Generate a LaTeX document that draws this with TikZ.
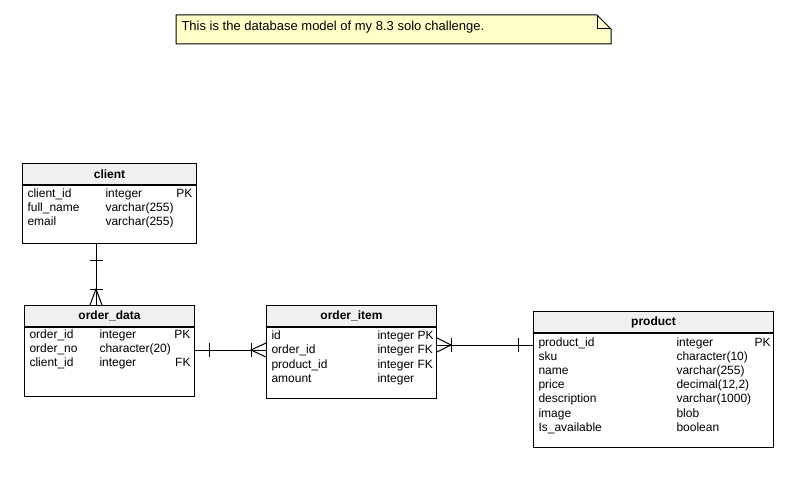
\documentclass[tikz,border=0pt]{standalone}
\usepackage{fontspec}
\setmainfont{Liberation Sans}
\usetikzlibrary{positioning,calc}
\definecolor{notefill}{HTML}{FFFFC8}
\definecolor{headfill}{HTML}{F0F0F0}
\tikzset{
  thead/.style={draw, fill=headfill, anchor=north west, inner sep=0pt, minimum height=21, font=\fontsize{12}{14}\selectfont\bfseries},
  tbody/.style={draw, fill=white, anchor=north west, inner sep=0pt},
  field/.style={anchor=base west, inner sep=0pt},
  fkey/.style={anchor=base east, inner sep=0pt},
}
\begin{document}
\begin{tikzpicture}[x=1pt, y=-1pt, line width=1pt, font=\fontsize{12}{14}\selectfont]
  \useasboundingbox (0,0) rectangle (802,492);

  % note
  \draw[fill=notefill] (176,15) -- (597,15) -- (611,29) -- (611,44) -- (176,44) -- cycle;
  \draw (597,15) -- (597,29) -- (611,29);
  \node[field, font=\fontsize{13}{15}\selectfont] (note) at (181,30.5) {This is the database model of my 8.3 solo challenge.};

  % client
  \node[thead, minimum width=174] (clhead) at (22,163) {client};
  \node[tbody, minimum width=174, minimum height=58] (clbody) at (clhead.south west) {};
  \foreach \n/\t/\k [count=\i from 0] in {client\_id/integer/PK, full\_name/varchar(255)/{}, email/varchar(255)/{}}{
    \node[field] (cln\i) at ($(clhead.north west)+(5,34+14.3*\i)$) {\n};
    \node[field] (clt\i) at ($(clhead.north west)+(83,34+14.3*\i)$) {\t};
    \node[fkey] (clk\i) at ($(clhead.north west)+(171,34+14.3*\i)$) {\k};
  }

  % order_data
  \node[thead, minimum width=170] (odhead) at (24,305) {order\_data};
  \node[tbody, minimum width=170, minimum height=69] (odbody) at (odhead.south west) {};
  \foreach \n/\t/\k [count=\i from 0] in {order\_id/integer/PK, order\_no/character(20)/{}, client\_id/integer/FK}{
    \node[field] (odn\i) at ($(odhead.north west)+(5,33+14.3*\i)$) {\n};
    \node[field] (odt\i) at ($(odhead.north west)+(75,33+14.3*\i)$) {\t};
    \node[fkey] (odk\i) at ($(odhead.north west)+(167,33+14.3*\i)$) {\k};
  }

  % order_item
  \node[thead, minimum width=170] (oihead) at (266,305) {order\_item};
  \node[tbody, minimum width=170, minimum height=71] (oibody) at (oihead.south west) {};
  \foreach \n/\t [count=\i from 0] in {id/{integer PK}, order\_id/{integer FK}, product\_id/{integer FK}, amount/integer}{
    \node[field] (oin\i) at ($(oihead.north west)+(5,34+14.5*\i)$) {\n};
    \node[field] (oit\i) at ($(oihead.north west)+(111,34+14.5*\i)$) {\t};
  }

  % product
  \node[thead, minimum width=240] (prhead) at (533,311) {product};
  \node[tbody, minimum width=240, minimum height=114] (prbody) at (prhead.south west) {};
  \foreach \n/\t/\k [count=\i from 0] in {product\_id/integer/PK, sku/character(10)/{}, name/varchar(255)/{},
      price/{decimal(12,2)}/{}, description/varchar(1000)/{}, image/blob/{}, Is\_available/boolean/{}}{
    \node[field] (prn\i) at ($(prhead.north west)+(5,35+14.2*\i)$) {\n};
    \node[field] (prt\i) at ($(prhead.north west)+(143,35+14.2*\i)$) {\t};
    \node[fkey] (prk\i) at ($(prhead.north west)+(238,35+14.2*\i)$) {\k};
  }

  % client -- order_data
  \coordinate (cl1) at ($(clbody.south west)+(74,0)$);
  \coordinate (od1) at ($(odhead.north west)+(72,0)$);
  \draw (cl1) -- (od1);
  \draw (cl1) ++(-6.5,16) -- ++(13,0);
  \draw (od1) ++(-6.5,-16) -- ++(13,0);
  \draw (od1) ++(-6,0) -- ++(6,-16) -- ++(6,16);

  % order_data -- order_item
  \coordinate (od2) at ($(odhead.north east)+(0,45)$);
  \coordinate (oi1) at ($(oihead.north west)+(0,45)$);
  \draw (od2) -- (oi1);
  \draw (od2) ++(14,-7) -- ++(0,14);
  \draw (oi1) ++(-15,-7) -- ++(0,14);
  \draw (oi1) ++(0,-7) -- ++(-15,7) -- ++(15,7);

  % order_item -- product
  \coordinate (oi2) at ($(oihead.north east)+(0,40)$);
  \coordinate (pr1) at ($(prhead.north west)+(0,34)$);
  \draw (oi2) -- (pr1);
  \draw (oi2) ++(0,-7) -- ++(14,7) -- ++(-14,7);
  \draw (oi2) ++(14,-7) -- ++(0,14);
  \draw (pr1) ++(-15,-7) -- ++(0,14);

\end{tikzpicture}
\end{document}
